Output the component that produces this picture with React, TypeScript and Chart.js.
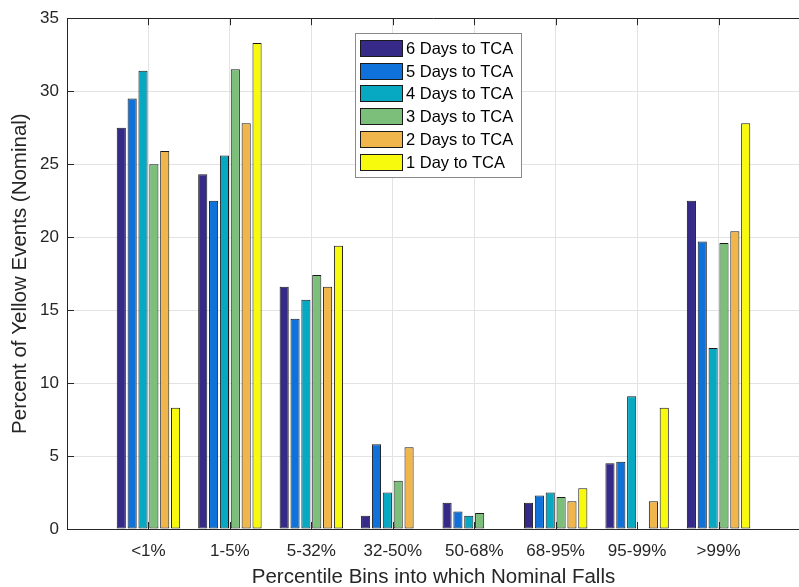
import { useEffect, useRef } from 'react';
import { Chart, registerables } from 'chart.js';

Chart.register(...registerables);

const categories = ['<1%', '1-5%', '5-32%', '32-50%', '50-68%', '68-95%', '95-99%', '>99%'];
const seriesLabels = ['6 Days to TCA', '5 Days to TCA', '4 Days to TCA', '3 Days to TCA', '2 Days to TCA', '1 Day to TCA'];
const days6 = [27.5, 24.3, 16.6, 0.9, 1.8, 1.8, 4.5, 22.5];
const days5 = [29.5, 22.5, 14.4, 5.8, 1.2, 2.3, 4.6, 19.7];
const days4 = [31.4, 25.6, 15.7, 2.5, 0.9, 2.5, 9.1, 12.4];
const days3 = [25.0, 31.5, 17.4, 3.3, 1.1, 2.2, 0, 19.6];
const days2 = [25.9, 27.8, 16.6, 5.6, 0, 1.9, 1.9, 20.4];
const days1 = [8.3, 33.3, 19.4, 0, 0, 2.8, 8.3, 27.8];
const seriesColors = ['#352a87', '#0f72da', '#07a8c2', '#7cbf7b', '#f0b64c', '#f8fa0d'];
const yTicks = [0, 5, 10, 15, 20, 25, 30, 35];

const FONT = "'Liberation Sans', Arial, Helvetica, sans-serif";
const AXIS = '#262626';
const GRID = '#e3e3e3';

const framePlugin = {
  id: 'frame',
  afterDatasetsDraw(chart: any) {
    const { ctx, chartArea: a, scales } = chart;
    const xs = scales.x;
    const ys = scales.y;
    ctx.save();
    ctx.strokeStyle = AXIS;
    ctx.lineWidth = 1;
    ctx.beginPath();
    ctx.moveTo(a.left, Math.round(a.top) + 0.5);
    ctx.lineTo(a.right, Math.round(a.top) + 0.5);
    ctx.moveTo(a.left, Math.round(a.bottom) + 0.5);
    ctx.lineTo(a.right, Math.round(a.bottom) + 0.5);
    ctx.moveTo(Math.round(a.left) + 0.5, a.top);
    ctx.lineTo(Math.round(a.left) + 0.5, a.bottom);
    const tl = 7;
    for (let i = 1; i <= categories.length; i++) {
      const px = Math.round(xs.getPixelForValue(i)) + 0.5;
      ctx.moveTo(px, a.bottom);
      ctx.lineTo(px, a.bottom - tl);
      ctx.moveTo(px, a.top);
      ctx.lineTo(px, a.top + tl);
    }
    yTicks.forEach((v) => {
      const py = Math.round(ys.getPixelForValue(v)) + 0.5;
      ctx.moveTo(a.left, py);
      ctx.lineTo(a.left + tl, py);
    });
    ctx.stroke();
    ctx.restore();
  },
  afterDraw(chart: any) {
    const { ctx } = chart;
    const bx = 355, by = 33, bw = 166, bh = 144;
    ctx.save();
    ctx.fillStyle = '#ffffff';
    ctx.fillRect(bx, by, bw, bh);
    ctx.strokeStyle = '#8a8a8a';
    ctx.lineWidth = 1;
    ctx.strokeRect(bx + 0.5, by + 0.5, bw, bh);
    ctx.font = `16.5px ${FONT}`;
    ctx.textBaseline = 'middle';
    ctx.textAlign = 'left';
    chart.data.datasets.forEach((ds: any, i: number) => {
      const sy = Math.round(by + 7 + i * 22.7);
      ctx.fillStyle = ds.backgroundColor;
      ctx.fillRect(360, sy, 42, 16);
      ctx.strokeStyle = '#1a1a1a';
      ctx.strokeRect(360.5, sy + 0.5, 42, 16);
      ctx.fillStyle = '#000000';
      ctx.fillText(ds.label, 406, sy + 9);
    });
    ctx.restore();
  },
};

export default function App() {
  const ref = useRef<HTMLCanvasElement>(null);

  useEffect(() => {
    document.body.style.margin = '0';
    document.documentElement.style.overflow = 'hidden';
    const canvas = ref.current;
    if (!canvas) return;
    const allSeries = [days6, days5, days4, days3, days2, days1];
    const chart = new Chart(canvas, {
      type: 'bar',
      data: {
        labels: ['', ...categories, ''],
        datasets: allSeries.map((vals, i) => ({
          label: seriesLabels[i],
          data: [null, ...vals, null],
          backgroundColor: seriesColors[i],
          borderColor: '#1a1a1a',
          borderWidth: 1,
          borderSkipped: false,
          categoryPercentage: 0.8,
          barPercentage: 0.84,
        })),
      },
      options: {
        animation: false,
        responsive: false,
        devicePixelRatio: 1,
        layout: { padding: { top: 15, right: 7, left: 0, bottom: 0 } },
        plugins: {
          legend: { display: false },
          tooltip: { enabled: false },
        },
        scales: {
          x: {
            type: 'category',
            offset: false,
            grid: { color: GRID, drawTicks: false, offset: false },
            border: { display: true, color: AXIS },
            ticks: {
              color: AXIS,
              font: { family: FONT, size: 17 },
              padding: 12,
              maxRotation: 0,
              autoSkip: false,
            },
            title: {
              display: true,
              text: 'Percentile Bins into which Nominal Falls',
              color: AXIS,
              font: { family: FONT, size: 20.5 },
              padding: { top: 0, bottom: -3 },
            },
            afterFit: (s: any) => { s.height = 58; },
          },
          y: {
            min: 0,
            max: 35,
            grid: { color: GRID, drawTicks: false },
            border: { display: true, color: AXIS },
            ticks: {
              stepSize: 5,
              color: AXIS,
              font: { family: FONT, size: 17 },
              padding: 8,
            },
            title: {
              display: true,
              text: 'Percent of Yellow Events (Nominal)',
              color: AXIS,
              font: { family: FONT, size: 20.5 },
              padding: { top: 8, bottom: 0 },
            },
            afterFit: (s: any) => { s.width = 67; },
          },
        },
      },
      plugins: [framePlugin],
    });
    return () => chart.destroy();
  }, []);

  return (
    <div style={{ width: 799, height: 587, overflow: 'hidden', position: 'relative' }}>
      <canvas ref={ref} width={812} height={587} style={{ display: 'block', width: 812, height: 587 }} />
    </div>
  );
}
